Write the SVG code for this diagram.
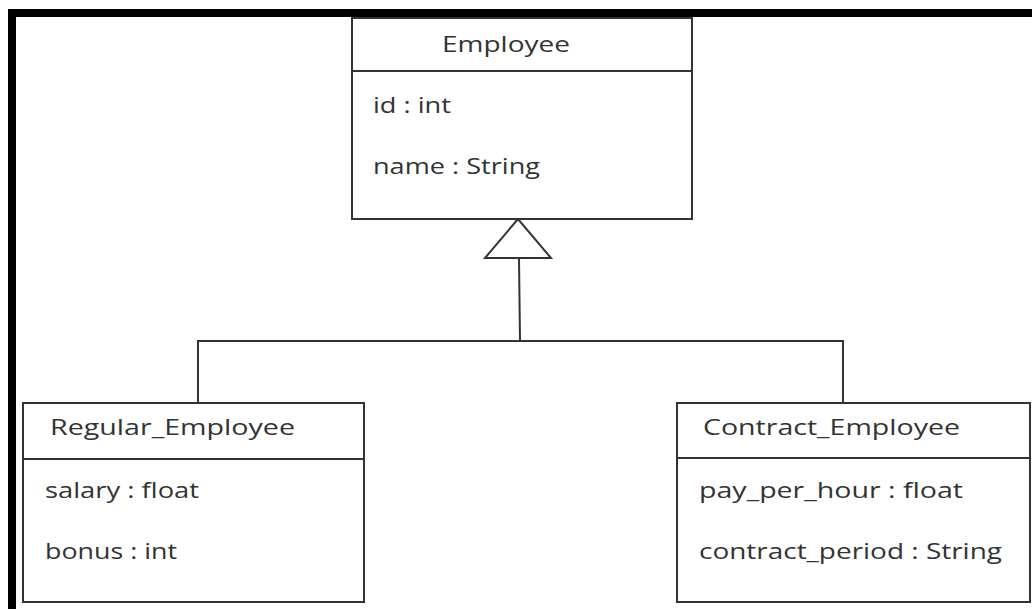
<svg xmlns="http://www.w3.org/2000/svg" width="1032" height="609" viewBox="0 0 1032 609">
  <style>
    .box { fill: #ffffff; stroke: #333333; stroke-width: 2; }
    .sep { stroke: #333333; stroke-width: 2; }
    .txt { font-family: "Open Sans", "Noto Sans", sans-serif; font-size: 22px; fill: #333333; }
    .edge { fill: none; stroke: #333333; stroke-width: 2; }
    .head { fill: #ffffff; stroke: #333333; stroke-width: 2; stroke-linejoin: miter; }
  </style>
  <rect x="0" y="0" width="1032" height="609" fill="#ffffff"/>

  <!-- frame -->
  <g id="frame">
    <rect x="8" y="9" width="1024" height="8" fill="#000000"/>
    <rect x="8" y="9" width="8" height="600" fill="#000000"/>
  </g>

  <!-- inheritance connectors -->
  <g id="connectors">
    <polyline class="edge" points="198,402 198,341 843,341 843,402"/>
    <line class="edge" x1="519" y1="258" x2="520" y2="341"/>
    <polygon class="head" points="518,219 485,258 551,258"/>
  </g>

  <g id="employee">
    <rect class="box" x="352" y="18" width="340" height="201"/>
    <line class="sep" x1="352" y1="71" x2="692" y2="71"/>
    <text class="txt" x="442" y="52" textLength="128" lengthAdjust="spacingAndGlyphs">Employee</text>
    <text class="txt" x="373" y="113" textLength="78" lengthAdjust="spacingAndGlyphs">id : int</text>
    <text class="txt" x="373" y="174" textLength="167" lengthAdjust="spacingAndGlyphs">name : String</text>
  </g>

  <g id="regular_employee">
    <rect class="box" x="23" y="403" width="341" height="199"/>
    <line class="sep" x1="23" y1="459" x2="364" y2="459"/>
    <text class="txt" x="50" y="435" textLength="245" lengthAdjust="spacingAndGlyphs">Regular_Employee</text>
    <text class="txt" x="45" y="498" textLength="154" lengthAdjust="spacingAndGlyphs">salary : float</text>
    <text class="txt" x="45" y="559" textLength="132" lengthAdjust="spacingAndGlyphs">bonus : int</text>
  </g>

  <g id="contract_employee">
    <rect class="box" x="677" y="403" width="353" height="199"/>
    <line class="sep" x1="677" y1="458" x2="1030" y2="458"/>
    <text class="txt" x="703" y="435" textLength="257" lengthAdjust="spacingAndGlyphs">Contract_Employee</text>
    <text class="txt" x="699" y="498" textLength="264" lengthAdjust="spacingAndGlyphs">pay_per_hour : float</text>
    <text class="txt" x="699" y="559" textLength="303" lengthAdjust="spacingAndGlyphs">contract_period : String</text>
  </g>
</svg>
